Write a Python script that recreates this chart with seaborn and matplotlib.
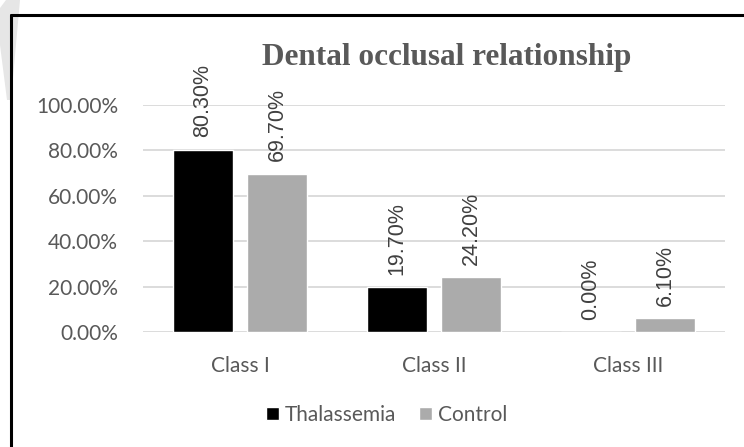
import matplotlib
matplotlib.use('Agg')
import matplotlib.pyplot as plt
import pandas as pd
import seaborn as sns
from matplotlib.patches import Polygon
from matplotlib.ticker import PercentFormatter

# Chart data
classes = ['Class I', 'Class II', 'Class III']
groups = ['Thalassemia', 'Control']
thalassemia = [80.3, 19.7, 0.0]
control = [69.7, 24.2, 6.1]

df = pd.DataFrame({
    'cls': classes * 2,
    'group': [groups[0]] * 3 + [groups[1]] * 3,
    'value': thalassemia + control,
})

sns.set_theme(style='white')
plt.rcParams['font.family'] = ['Lato', 'DejaVu Sans']

W, H = 744, 447
fig = plt.figure(figsize=(W / 100, H / 100), dpi=100)
ax = fig.add_axes([143 / W, 1 - 332 / H, 582 / W, 227 / H])

sns.barplot(data=df, x='cls', y='value', hue='group', hue_order=groups,
            palette=['#000000', '#ababab'], width=0.762, gap=0.176,
            saturation=1, ax=ax, legend=True)

ax.set_ylim(0, 100)
ax.set_xlim(-0.5, 2.5)
ax.set_yticks([0, 20, 40, 60, 80, 100])
ax.yaxis.set_major_formatter(PercentFormatter(decimals=2))
ax.grid(axis='y', color='#d9d9d9', linewidth=1.3)
ax.set_axisbelow(True)
for s in ax.spines.values():
    s.set_visible(False)
ax.set_xlabel('')
ax.set_ylabel('')
ax.tick_params(axis='both', length=0, labelsize=15, labelcolor='#595959')
ax.tick_params(axis='x', pad=17)
ax.tick_params(axis='y', pad=18)

# rotated data labels
for cont in ax.containers:
    for bar in cont:
        h = bar.get_height()
        ax.text(bar.get_x() + bar.get_width() / 2, h + 5.5, f'{h:.2f}%',
                rotation=90, ha='center', va='bottom', fontsize=15.5,
                family='Liberation Sans', color='#404040', clip_on=False)

# legend sits a bit left of the plot centre, like the original
ax.legend(loc='center', bbox_to_anchor=((387 - 143) / 582, -(415 - 332) / 227),
          ncol=2, frameon=False, fontsize=15, labelcolor='#595959',
          handlelength=0.6, handleheight=0.6, handletextpad=0.3,
          columnspacing=1.1)

fig.text(447 / W, 1 - 57 / H, 'Dental occlusal relationship',
         family='Liberation Serif', fontweight='bold', fontsize=22.5,
         color='#595959', ha='center', va='center')

# faint mark at the left edge
fig.patches.append(Polygon([(0 / W, 1 - 8 / H), (6 / W, 1), (20 / W, 1),
                            (11 / W, 1 - 100 / H), (7 / W, 1 - 100 / H),
                            (0 / W, 1 - 45 / H)],
                           closed=True, transform=fig.transFigure,
                           facecolor='#e6e6e6', edgecolor='none', zorder=0))

# outer frame: left and top edges
fig.add_artist(plt.Line2D([11 / W, 11 / W], [0, 1 - 15 / H],
                          transform=fig.transFigure, color='black', lw=2.2))
fig.add_artist(plt.Line2D([11 / W, 1], [1 - 15 / H, 1 - 15 / H],
                          transform=fig.transFigure, color='black', lw=2.2))

fig.savefig('out.png', dpi=100)
